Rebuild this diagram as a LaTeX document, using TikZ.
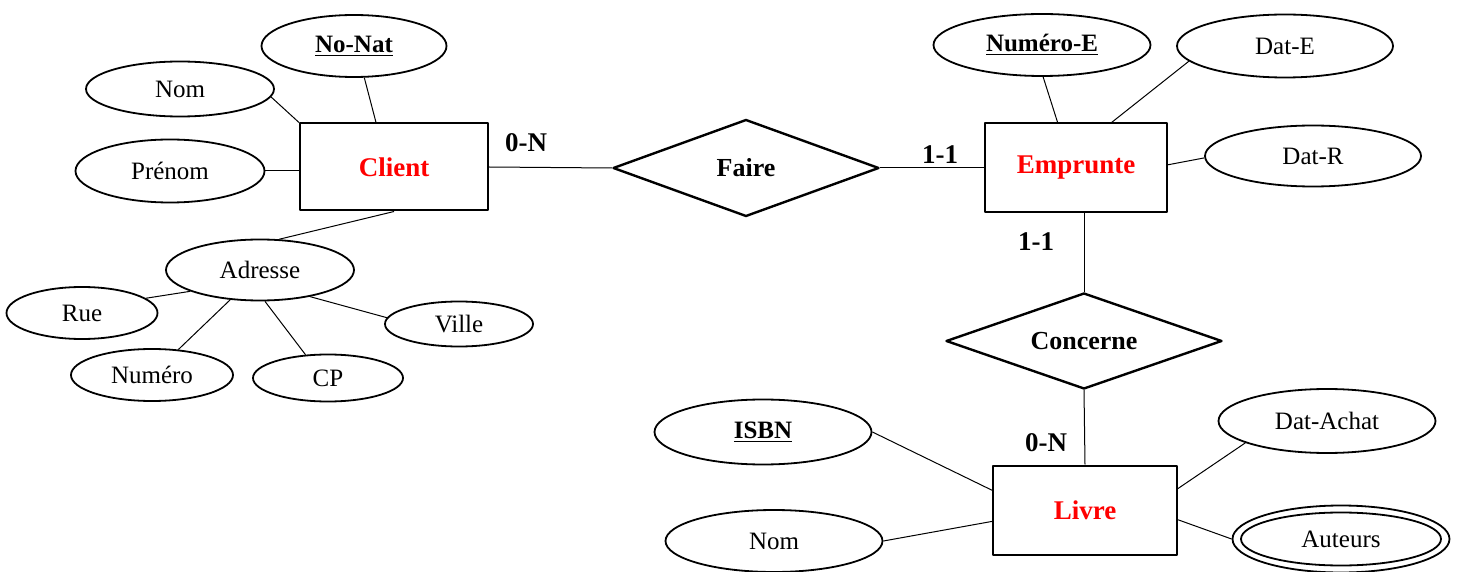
\documentclass[tikz,border=0pt]{standalone}
\usepackage{fontspec}
\setmainfont{Liberation Serif}
\usetikzlibrary{shapes.geometric}
\definecolor{entrouge}{RGB}{255,0,0}
\newcommand{\cle}[1]{\textbf{\underline{#1}}}
\begin{document}
\begin{tikzpicture}[x=0.5pt,y=-0.5pt,line join=round,
	attr/.style={draw,ellipse,line width=0.9pt,inner sep=0pt,font=\fontsize{12.5}{15}\selectfont},
	ent/.style={draw,rectangle,line width=1pt,inner sep=0pt,text=entrouge,font=\fontsize{13.5}{16}\selectfont\bfseries},
	rel/.style={draw,diamond,aspect=2.8,line width=1.2pt,inner sep=0pt,font=\fontsize{13}{16}\selectfont\bfseries},
	card/.style={font=\fontsize{13.5}{16}\selectfont\bfseries},
	lien/.style={line width=0.5pt}]
		\useasboundingbox (0,0) rectangle (1462,572);
		% entites et associations
		\node[ent,minimum width=94pt,minimum height=43.5pt] (client) at (394,167) {Client};
		\node[ent,minimum width=91pt,minimum height=44.5pt] (emprunte) at (1076,168) {Emprunte};
		\node[ent,minimum width=92pt,minimum height=44.5pt] (livre) at (1085,510) {Livre};
		\node[rel,minimum width=133pt,minimum height=48.5pt] (faire) at (746,168) {Faire};
		\node[rel,minimum width=138pt,minimum height=48pt] (concerne) at (1084,341) {Concerne};
		% attributs Client
		\node[attr,minimum width=92.5pt,minimum height=31pt] (nonat) at (354,46) {\cle{No-Nat}};
		\node[attr,minimum width=94pt,minimum height=27.5pt] (nom) at (180,89) {Nom};
		\node[attr,minimum width=94.5pt,minimum height=31.5pt] (prenom) at (170,171) {Prénom};
		\node[attr,minimum width=94pt,minimum height=30.5pt] (adresse) at (260,270) {Adresse};
		\node[attr,minimum width=75.5pt,minimum height=26pt] (rue) at (82,313) {Rue};
		\node[attr,minimum width=81pt,minimum height=26pt] (numero) at (152,375) {Numéro};
		\node[attr,minimum width=75pt,minimum height=23.5pt] (cp) at (328,378) {CP};
		\node[attr,minimum width=74pt,minimum height=22.5pt] (ville) at (459,324) {Ville};
		% attributs Emprunte
		\node[attr,minimum width=108.5pt,minimum height=31pt] (numeroE) at (1042,45) {\cle{Numéro-E}};
		\node[attr,minimum width=108pt,minimum height=31.5pt] (datE) at (1285,46) {Dat-E};
		\node[attr,minimum width=108pt,minimum height=30.5pt] (datR) at (1313,156) {Dat-R};
		% attributs Livre
		\node[attr,minimum width=108.5pt,minimum height=32.5pt] (isbn) at (763,432) {\cle{ISBN}};
		\node[attr,minimum width=108.5pt,minimum height=31pt] (nomlivre) at (774,541) {Nom};
		\node[attr,minimum width=108.5pt,minimum height=32pt] (datAchat) at (1327,421) {Dat-Achat};
		\node[attr,minimum width=108.5pt,minimum height=33.5pt] (auteurs) at (1341,539) {};
		\node[attr,minimum width=100pt,minimum height=26.5pt] (auteursin) at (auteurs) {Auteurs};
		% cardinalites
		\node[card] (cardA) at (526,143) {0-N};
		\node[card] (cardB) at (940,155) {1-1};
		\node[card] (cardC) at (1036,242) {1-1};
		\node[card] (cardD) at (1046,443) {0-N};
		% liens
		\draw[lien] (nom.355) -- (client.north west);
		\draw[lien] (nonat.288) -- (client.112);
		\draw[lien] (prenom.east) -- (prenom.east -| client.west);
		\draw[lien] (client.south) -- (adresse.58);
		\draw[lien] (adresse.197) -- (rue.13);
		\draw[lien] (adresse.225) -- (numero.44);
		\draw[lien] (adresse.279) -- (cp.134);
		\draw[lien] (adresse.332) -- (ville.175);
		\draw[lien] (client.east) -- (faire.west);
		\draw[lien] (faire.east) -- (emprunte.west);
		\draw[lien] (numeroE.272) -- (emprunte.112);
		\draw[lien] (datE.189) -- (emprunte.52);
		\draw[lien] (datR.181) -- (emprunte.2);
		\draw[lien] (concerne.north |- emprunte.south) -- (concerne.north);
		\draw[lien] (concerne.south) -- (livre.north);
		\draw[lien] (isbn.east) -- (livre.168);
		\draw[lien] (nomlivre.east) -- (livre.187);
		\draw[lien] (datAchat.195) -- (livre.13);
		\draw[lien] (auteurs.west) -- (livre.354);
\end{tikzpicture}
\end{document}
